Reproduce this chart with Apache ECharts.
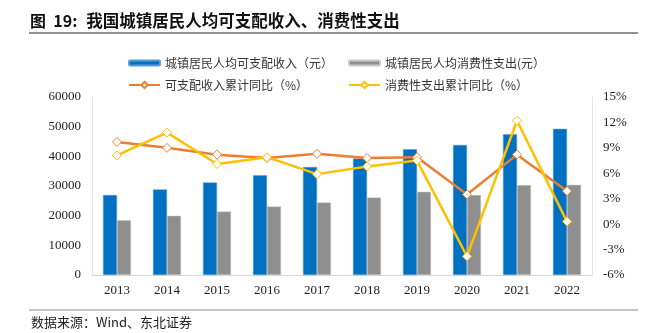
<!DOCTYPE html>
<html>
<head>
<meta charset="utf-8">
<script src="https://cdn.jsdelivr.net/npm/echarts@6/dist/echarts.min.js"></script>
<style>
  html, body { margin: 0; padding: 0; background: #fff; }
  #chart { width: 660px; height: 333px; }
</style>
</head>
<body>
<div id="chart"></div>
<script>
// Years on the category axis
const years = ['2013', '2014', '2015', '2016', '2017', '2018', '2019', '2020', '2021', '2022'];
// Urban per-capita disposable income (yuan)
const incomeValues = [26955, 28844, 31195, 33616, 36396, 39251, 42359, 43834, 47412, 49283];
// Urban per-capita consumption expenditure (yuan)
const spendValues = [18488, 19968, 21392, 23079, 24445, 26112, 28063, 27007, 30307, 30391];
// Cumulative YoY growth of disposable income (%)
const incomeGrowth = [9.7, 9.0, 8.2, 7.8, 8.3, 7.8, 7.9, 3.5, 8.2, 3.9];
// Cumulative YoY growth of consumption expenditure (%)
const spendGrowth = [8.1, 10.8, 7.1, 7.9, 5.9, 6.8, 7.5, -3.8, 12.2, 0.3];

const names = {
  income: '城镇居民人均可支配收入（元）',
  spend: '城镇居民人均消费性支出(元）',
  incomeG: '可支配收入累计同比（%）',
  spendG: '消费性支出累计同比（%）'
};

const FONT = '"Liberation Serif", "Noto Sans CJK SC", serif';
const CJK = '"Noto Sans CJK SC", "Liberation Serif", sans-serif';

const chart = echarts.init(document.getElementById('chart'), null, { renderer: 'canvas' });

const legendText = { fontFamily: CJK, fontSize: 12, color: '#333' };

chart.setOption({
  animation: false,
  backgroundColor: '#fff',
  textStyle: { fontFamily: FONT },
  title: {
    text: '{a|图  19:}  {b|我国城镇居民人均可支配收入、消费性支出}',
    left: 30, top: 12, padding: 0,
    textStyle: {
      rich: {
        a: { fontFamily: '"Noto Sans CJK SC", "Liberation Serif", serif', fontSize: 16, fontWeight: 'bold', color: '#111' },
        b: { fontFamily: CJK, fontSize: 16.5, fontWeight: 'bold', color: '#111' }
      }
    }
  },
  graphic: [
    { type: 'line', shape: { x1: 29, y1: 33, x2: 638, y2: 33 }, style: { stroke: '#222', lineWidth: 1 } },
    { type: 'line', shape: { x1: 29, y1: 310, x2: 638, y2: 310 }, style: { stroke: '#888', lineWidth: 1.2 } },
    { type: 'text', left: 31, top: 316, style: { text: '数据来源：Wind、东北证券', font: '13px "Noto Sans CJK SC", sans-serif', fill: '#222' } }
  ],
  legend: [
    {
      data: [names.income], left: 123, top: 52, itemWidth: 31, itemHeight: 5, itemGap: 4,
      textStyle: legendText
    },
    {
      data: [names.spend], left: 343, top: 52, itemWidth: 31, itemHeight: 5,
      textStyle: legendText
    },
    {
      data: [names.incomeG], left: 123, top: 74, itemWidth: 31, itemHeight: 8,
      textStyle: legendText
    },
    {
      data: [names.spendG], left: 343, top: 74, itemWidth: 31, itemHeight: 8,
      textStyle: legendText
    }
  ],
  grid: { left: 92, right: 68, top: 97, bottom: 58, containLabel: false },
  xAxis: {
    type: 'category',
    data: years,
    axisLine: { lineStyle: { color: '#d9d9d9' } },
    axisTick: { show: false },
    axisLabel: { color: '#222', fontSize: 13, fontFamily: FONT, margin: 9 }
  },
  yAxis: [
    {
      type: 'value', min: 0, max: 60000, interval: 10000,
      axisLine: { show: true, lineStyle: { color: '#e3e3e3' } },
      axisTick: { show: false },
      splitLine: { show: false },
      axisLabel: { color: '#222', fontSize: 13, fontFamily: FONT, margin: 11, formatter: v => String(v) }
    },
    {
      type: 'value', min: -6, max: 15, interval: 3,
      axisLine: { show: true, lineStyle: { color: '#e3e3e3' } },
      axisTick: { show: false },
      splitLine: { show: false },
      axisLabel: { color: '#222', fontSize: 13, fontFamily: FONT, margin: 11, formatter: '{value}%' }
    }
  ],
  series: [
    {
      name: names.income, type: 'bar', data: incomeValues,
      barWidth: 14, barGap: '0%',
      itemStyle: { color: '#0070C0', borderColor: '#5B9BD5', borderWidth: 0.5 }
    },
    {
      name: names.spend, type: 'bar', data: spendValues,
      barWidth: 14,
      itemStyle: { color: '#8F8F8F', borderColor: '#c8c8c8', borderWidth: 0.5 }
    },
    {
      name: names.incomeG, type: 'line', yAxisIndex: 1, data: incomeGrowth,
      symbol: 'diamond', symbolSize: 9,
      lineStyle: { color: '#ED7D31', width: 2.5 },
      itemStyle: { color: '#fff', borderColor: '#ED7D31', borderWidth: 1 }
    },
    {
      name: names.spendG, type: 'line', yAxisIndex: 1, data: spendGrowth,
      symbol: 'diamond', symbolSize: 9,
      lineStyle: { color: '#FFC000', width: 2.5 },
      itemStyle: { color: '#fff', borderColor: '#FFC000', borderWidth: 1 }
    }
  ]
});
</script>
</body>
</html>
